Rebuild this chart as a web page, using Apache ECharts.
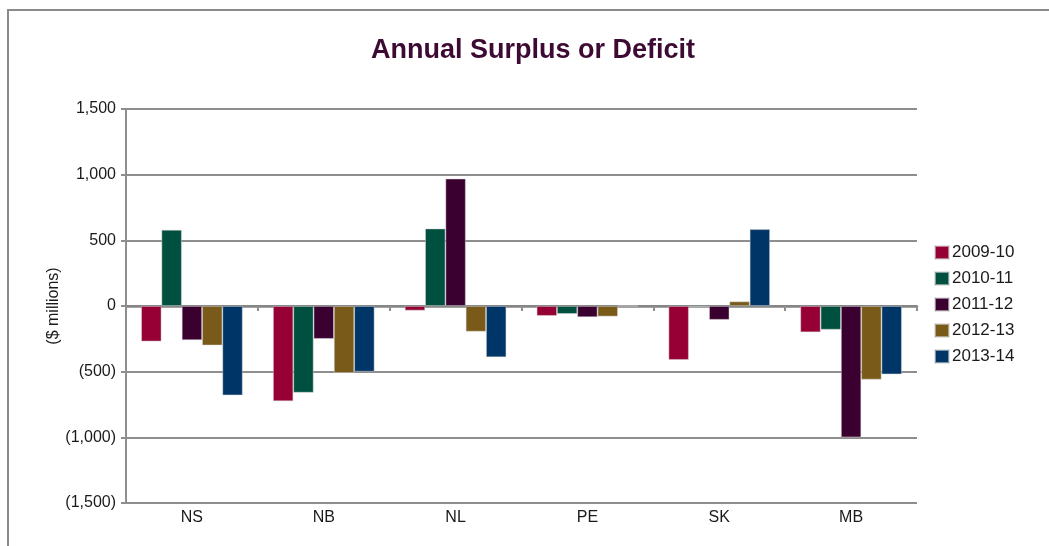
<!DOCTYPE html>
<html>
<head>
<meta charset="utf-8">
<title>Annual Surplus or Deficit</title>
<script src="https://cdn.jsdelivr.net/npm/echarts@6/dist/echarts.min.js"></script>
<style>
  html, body { margin: 0; padding: 0; background: #ffffff; }
  #chart { width: 1049px; height: 546px; }
</style>
</head>
<body>
<div id="chart"></div>
<script>
// Provinces along the category axis
const provinces = ['NS', 'NB', 'NL', 'PE', 'SK', 'MB'];

// Fiscal years (one bar series each)
const years = ['2009-10', '2010-11', '2011-12', '2012-13', '2013-14'];

// Annual surplus (+) or deficit (-), $ millions, per province
const fy2009_10 = [-270, -725, -35, -75, -410, -200];
const fy2010_11 = [580, -660, 590, -60, -8, -180];
const fy2011_12 = [-260, -250, 970, -85, -105, -1000];
const fy2012_13 = [-300, -510, -195, -80, 35, -560];
const fy2013_14 = [-680, -500, -390, 0, 585, -520];

// Value axis ticks
const yTicks = [-1500, -1000, -500, 0, 500, 1000, 1500];

const seriesValues = [fy2009_10, fy2010_11, fy2011_12, fy2012_13, fy2013_14];
const seriesColors = ['#960035', '#00503f', '#3a0030', '#7a5a18', '#003567'];

const FONT = '"Liberation Sans", Arial, Helvetica, sans-serif';
const GRID_GRAY = '#8e8e8e';

function fmtMillions(v) {
  const s = Math.abs(v).toLocaleString('en-US');
  return v < 0 ? '(' + s + ')' : s;
}

const chart = echarts.init(document.getElementById('chart'), null, { renderer: 'canvas' });

chart.setOption({
  animation: false,
  backgroundColor: '#ffffff',
  textStyle: { fontFamily: FONT },
  graphic: [{
    type: 'rect',
    shape: { x: 8, y: 10, width: 1200, height: 700 },
    style: { fill: 'none', stroke: '#8a8a8a', lineWidth: 2 },
    silent: true,
    z: -1
  }],
  title: {
    text: 'Annual Surplus or Deficit',
    left: 371,
    top: 37,
    padding: 0,
    textStyle: { fontFamily: FONT, fontSize: 27, fontWeight: 'bold', color: '#3d0a33' }
  },
  legend: {
    orient: 'vertical',
    left: 934,
    top: 244,
    padding: 0,
    itemWidth: 14,
    itemHeight: 13,
    itemGap: 9,
    icon: 'rect',
    data: years,
    textStyle: { fontFamily: FONT, fontSize: 17, color: '#1a1a1a', lineHeight: 17, padding: [0, 0, 0, -2] }
  },
  grid: { left: 126, right: 132, top: 109, bottom: 43, containLabel: false },
  xAxis: [
    {
      type: 'category',
      data: provinces,
      position: 'bottom',
      axisLine: { onZero: true, lineStyle: { color: '#858585', width: 2.5 } },
      axisTick: { show: true, interval: 0, length: 5, lineStyle: { color: GRID_GRAY, width: 2 } },
      axisLabel: { show: false },
      splitLine: { show: false }
    },
    {
      type: 'category',
      data: provinces,
      position: 'bottom',
      axisLine: { show: false, onZero: false },
      axisTick: { show: false },
      axisLabel: { show: true, interval: 0, margin: 7, fontFamily: FONT, fontSize: 16, color: '#1a1a1a' },
      splitLine: { show: false }
    }
  ],
  yAxis: {
    type: 'value',
    min: yTicks[0],
    max: yTicks[yTicks.length - 1],
    interval: 500,
    name: '($ millions)',
    nameLocation: 'middle',
    nameRotate: 90,
    nameGap: 64,
    nameMoveOverlap: false,
    nameTextStyle: { fontFamily: FONT, fontSize: 16, color: '#1a1a1a' },
    axisLine: { show: true, lineStyle: { color: GRID_GRAY, width: 2 } },
    axisTick: { show: true, length: 5, lineStyle: { color: GRID_GRAY, width: 2 } },
    axisLabel: { margin: 10, fontFamily: FONT, fontSize: 16, color: '#1a1a1a', formatter: fmtMillions },
    splitLine: { show: true, lineStyle: { color: GRID_GRAY, width: 2 } }
  },
  series: years.map((y, i) => ({
    name: y,
    type: 'bar',
    xAxisIndex: 0,
    data: seriesValues[i],
    barGap: '0%',
    barCategoryGap: '23%',
    itemStyle: { color: seriesColors[i], borderColor: 'rgba(210,210,210,0.6)', borderWidth: 0.8 }
  }))
});
</script>
</body>
</html>
